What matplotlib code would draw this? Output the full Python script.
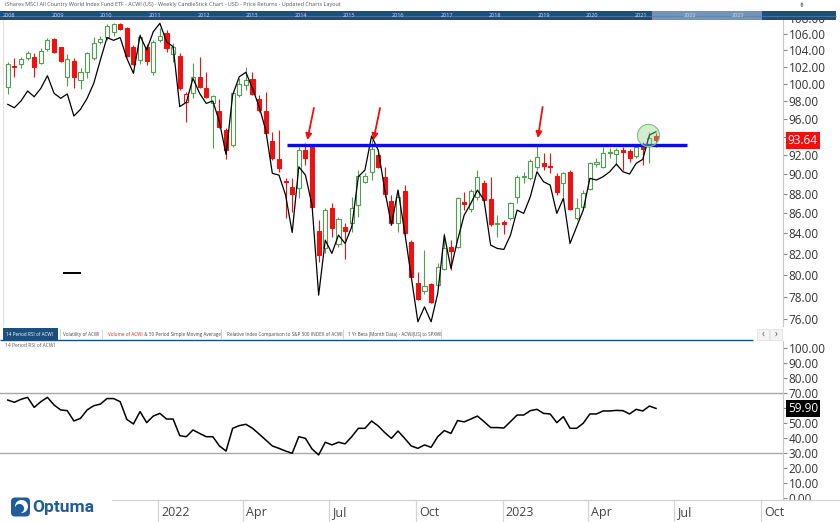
import numpy as np
import matplotlib
matplotlib.use("Agg")
import matplotlib.pyplot as plt
import matplotlib.dates as mdates
from matplotlib.patches import Rectangle, FancyBboxPatch, Circle
from matplotlib.transforms import blended_transform_factory, ScaledTranslation
from datetime import datetime, timedelta

plt.rcParams['font.family'] = ['Open Sans', 'DejaVu Sans']

# ---------------- data ----------------
first_week = datetime(2021, 7, 26)
n_weeks = 99
week_dates = [first_week + timedelta(weeks=i) for i in range(n_weeks)]

opens = [99.68, 102.12, 102.40, 103.04, 103.23, 102.52, 104.12, 105.34, 104.37, 100.78,
         102.71, 100.43, 101.37, 103.04, 104.98, 105.59, 106.20, 107.20, 106.78, 104.45,
         102.83, 104.45, 101.44, 105.26, 106.09, 103.52, 103.36, 97.88, 98.92, 100.85,
         99.49, 97.76, 96.93, 94.77, 93.12, 98.72, 99.88, 100.58, 98.26, 96.90,
         93.56, 91.62, 89.33, 88.70, 88.53, 92.58, 92.94, 84.26, 82.55, 86.49,
         82.97, 84.66, 84.99, 86.83, 89.22, 90.27, 92.04, 89.75, 87.24, 85.05,
         88.29, 83.19, 79.30, 78.57, 79.18, 79.09, 80.55, 82.65, 82.65, 87.10,
         86.39, 87.62, 89.12, 87.41, 84.92, 85.09, 85.49, 87.68, 89.68, 89.58,
         90.73, 91.16, 90.90, 89.82, 89.05, 90.24, 85.49, 86.66, 88.43, 91.08,
         90.73, 92.40, 92.11, 92.58, 92.51, 91.97, 92.87, 93.12, 94.11]
highs = [102.63, 103.04, 103.23, 103.92, 103.64, 104.24, 105.46, 105.46, 104.45, 103.52,
         103.04, 101.84, 103.84, 105.67, 105.79, 107.20, 107.37, 107.33, 106.91, 104.65,
         105.96, 104.73, 105.26, 106.71, 106.50, 104.86, 103.64, 99.10, 102.52, 103.23,
         101.37, 98.72, 98.26, 94.95, 99.10, 100.66, 102.04, 101.37, 98.72, 99.03,
         94.58, 94.77, 89.58, 89.58, 92.94, 93.30, 93.05, 85.32, 86.49, 87.00,
         85.65, 84.99, 87.68, 90.45, 90.10, 93.67, 92.22, 90.80, 87.85, 88.36,
         88.88, 83.35, 80.32, 82.39, 79.30, 81.12, 84.00, 83.35, 87.68, 88.18,
         88.43, 90.45, 89.40, 89.75, 85.82, 85.32, 87.17, 89.92, 90.27, 91.58,
         93.10, 92.22, 92.22, 90.10, 90.27, 90.45, 87.52, 88.36, 91.33, 91.69,
         92.94, 92.76, 92.76, 92.94, 92.65, 93.12, 93.49, 94.58, 94.40]
lows = [98.80, 100.85, 101.85, 102.83, 100.85, 102.40, 103.92, 103.64, 102.63, 99.76,
        99.49, 99.41, 100.66, 102.83, 104.73, 105.26, 105.75, 106.50, 103.23, 102.24,
        102.32, 102.24, 101.05, 105.05, 103.84, 102.60, 99.30, 95.62, 98.34, 99.49,
        98.34, 92.83, 94.95, 91.62, 92.94, 98.52, 99.30, 98.72, 96.82, 94.22,
        91.51, 90.27, 85.49, 86.15, 87.52, 90.98, 86.49, 81.27, 82.07, 83.68,
        82.71, 81.50, 84.17, 85.65, 89.05, 89.40, 90.63, 87.68, 84.82, 84.17,
        83.84, 79.70, 77.72, 78.32, 77.42, 78.93, 80.48, 80.48, 82.55, 86.32,
        86.15, 87.34, 87.17, 84.72, 83.68, 83.94, 85.32, 87.00, 89.05, 89.40,
        90.45, 90.45, 90.10, 87.85, 87.68, 86.32, 85.32, 86.32, 88.36, 90.80,
        90.63, 91.69, 90.98, 90.45, 91.33, 91.69, 90.98, 91.16, 92.94]
closes = [102.32, 101.97, 102.91, 103.71, 102.04, 103.95, 105.26, 103.76, 102.75, 102.91,
          100.78, 101.37, 103.64, 104.86, 105.34, 107.03, 107.20, 106.58, 103.36, 102.32,
          105.67, 102.75, 105.05, 105.75, 104.32, 104.45, 99.49, 98.84, 100.85, 99.68,
          98.52, 98.55, 95.13, 92.58, 98.92, 99.96, 100.46, 98.84, 97.01, 94.40,
          91.69, 90.63, 89.22, 87.92, 92.58, 91.75, 86.59, 81.91, 86.32, 84.49,
          85.39, 84.26, 86.49, 89.82, 89.85, 92.65, 90.80, 87.92, 84.99, 87.68,
          84.00, 79.86, 77.78, 79.00, 77.57, 80.74, 82.61, 82.32, 87.52, 86.93,
          88.29, 89.68, 87.34, 84.92, 84.99, 84.89, 87.00, 89.68, 89.82, 91.40,
          91.79, 90.87, 90.73, 88.18, 90.17, 86.39, 86.49, 88.02, 91.16, 91.33,
          92.22, 92.29, 92.58, 92.33, 91.75, 92.94, 92.65, 93.94, 93.64]
overlay_line = [97.65, 97.27, 98.03, 99.18, 98.52, 99.49, 100.97, 98.92, 98.34, 98.84,
                96.33, 97.09, 98.34, 100.07, 102.83, 105.56, 105.22, 105.56, 103.04, 101.25,
                105.79, 104.04, 106.28, 107.33, 105.05, 104.45, 97.39, 97.88, 100.66, 98.92,
                97.76, 98.03, 95.69, 92.11, 98.72, 100.85, 101.37, 99.49, 97.39, 94.77,
                90.10, 89.92, 87.85, 84.10, 90.80, 89.92, 86.83, 78.17, 83.35, 82.07,
                83.84, 83.03, 84.66, 89.75, 90.45, 94.11, 92.58, 88.36, 84.82, 88.36,
                84.17, 79.86, 75.78, 77.11, 75.78, 78.32, 83.84, 80.64, 83.35, 85.82,
                86.99, 88.36, 87.34, 82.87, 82.55, 82.45, 83.84, 86.32, 85.99, 87.68,
                90.27, 89.22, 88.88, 85.99, 87.52, 83.03, 84.66, 86.32, 89.58, 89.40,
                89.75, 90.27, 91.08, 90.27, 90.03, 91.16, 91.58, 94.22, 94.58]
rsi = [65.5, 64.0, 66.0, 67.3, 60.6, 64.4, 67.3, 62.2, 58.9, 58.4,
       51.5, 53.3, 58.9, 61.7, 62.8, 66.5, 66.5, 64.4, 52.6, 49.5,
       57.8, 50.4, 54.8, 56.6, 52.8, 52.8, 41.7, 41.0, 45.5, 43.2,
       41.0, 41.0, 34.8, 31.4, 46.6, 48.4, 49.3, 46.6, 42.8, 38.8,
       34.8, 33.2, 31.4, 29.9, 41.0, 39.9, 32.8, 28.8, 37.3, 35.5,
       37.3, 36.2, 41.0, 46.6, 46.6, 51.5, 48.2, 43.7, 39.9, 44.8,
       39.9, 34.8, 33.2, 35.5, 33.9, 41.0, 45.1, 43.2, 51.8, 50.9,
       52.8, 54.8, 51.1, 47.1, 47.1, 46.8, 51.1, 55.5, 55.5, 58.4,
       59.3, 56.6, 56.2, 50.4, 54.4, 46.6, 46.6, 50.0, 56.2, 56.2,
       58.2, 58.2, 58.6, 58.4, 56.2, 59.3, 58.2, 61.5, 59.9]

price_ticks = [76, 78, 80, 82, 84, 86, 88, 90, 92, 94, 96, 98, 100, 102, 104, 106, 108]
rsi_ticks = [0, 10, 20, 30, 40, 50, 60, 70, 80, 90, 100]
rsi_levels = [70, 30]
resistance = 93.1
resistance_span = (datetime(2022, 5, 18), datetime(2023, 7, 15))
arrow_tails = [(datetime(2022, 6, 15), 97.24), (datetime(2022, 8, 24), 97.24), (datetime(2023, 2, 12), 97.35)]
arrow_tips = [(datetime(2022, 6, 8), 93.67), (datetime(2022, 8, 17), 93.67), (datetime(2023, 2, 7), 93.89)]
highlight_point = (datetime(2023, 6, 4), 94.22)
dash_level = 80.24
dash_span = (datetime(2021, 9, 22), datetime(2021, 10, 11))
quarter_starts = [datetime(2022, 1, 1), datetime(2022, 4, 1), datetime(2022, 7, 1), datetime(2022, 10, 1),
                  datetime(2023, 1, 1), datetime(2023, 4, 1), datetime(2023, 7, 1), datetime(2023, 10, 1)]
quarter_labels = ['2022', 'Apr', 'Jul', 'Oct', '2023', 'Apr', 'Jul', 'Oct']
nav_years = list(range(2008, 2024))
tab_names = ['14 Period RSI of ACWI', 'Volatility of ACWI', 'Volume of ACWI',
             ' & 50 Period Simple Moving Average',
             'Relative Index Comparison to S&P 500 INDEX of ACWI',
             '1 Yr Beta (Month Data) - ACWI(US) to SPXWI']

# ---------------- layout helpers ----------------
W, H = 840, 522
fig = plt.figure(figsize=(W / 100, H / 100), dpi=100)
fig.patch.set_facecolor('white')


def rect(x0, y0, x1, y1):
    return [x0 / W, 1 - y1 / H, (x1 - x0) / W, (y1 - y0) / H]


REF_DATE = mdates.date2num(datetime(2022, 1, 1))
REF_PX = 158.0
PX_PER_DAY = 0.945


def px2date(px):
    return REF_DATE + (px - REF_PX) / PX_PER_DAY


def py2price(py):
    return 106.0 * np.exp(-(py - 34.0) / 857.5)


GREEN = '#4f9f4f'
RED = '#ee1111'
TXT = '#333333'
NAVY = '#1d4f7c'

d = mdates.date2num(week_dates)
O = np.array(opens); Hh = np.array(highs); L = np.array(lows); C = np.array(closes)

# ---------------- main price axes ----------------
ax = fig.add_axes(rect(0, 12, 783, 326))
ax.set_yscale('log')
ax.set_xlim(px2date(0), px2date(783))
ax.set_ylim(py2price(326), py2price(12))

prev = np.r_[O[0], C[:-1]]
up = C >= prev
hollow = C >= O
cols = [GREEN if u else RED for u in up]
faces = ['white' if h else c for h, c in zip(hollow, cols)]
ax.vlines(d, L, Hh, colors=cols, linewidth=0.8, zorder=2)
body_bottom = np.minimum(O, C)
body_height = np.maximum(np.abs(C - O), 0.09)
ax.bar(d, body_height, bottom=body_bottom, width=4.3, color=faces, edgecolor=cols,
       linewidth=0.8, zorder=3)
ax.plot(d, overlay_line, color='black', linewidth=0.9, zorder=4)

ax.hlines(resistance, mdates.date2num(resistance_span[0]), mdates.date2num(resistance_span[1]),
          color='#0a0aee', linewidth=2.4, zorder=5)
for (t0, p0), (t1, p1) in zip(arrow_tails, arrow_tips):
    ax.annotate('', xy=(mdates.date2num(t1), p1), xytext=(mdates.date2num(t0), p0),
                arrowprops=dict(arrowstyle='-|>', color=RED, lw=1.3, mutation_scale=9,
                                shrinkA=0, shrinkB=0), zorder=6)
ax.plot([mdates.date2num(highlight_point[0])], [highlight_point[1]], marker='o', ms=16,
        mfc=(0.55, 0.82, 0.55, 0.4), mec='#7cc47c', mew=0.8, zorder=6)
ax.hlines(dash_level, mdates.date2num(dash_span[0]), mdates.date2num(dash_span[1]),
          color='black', linewidth=1.4)

ax.yaxis.tick_right()
ax.set_yticks(price_ticks)
ax.set_yticklabels(['' if v == 94 else f'{v:.2f}' for v in price_ticks])
ax.yaxis.set_minor_locator(matplotlib.ticker.NullLocator())
ax.yaxis.set_minor_formatter(matplotlib.ticker.NullFormatter())
ax.tick_params(axis='y', direction='out', length=3, color='#888888', labelsize=8.5,
               labelcolor=TXT, pad=1)
ax.set_xticks([])
for s in ['top', 'bottom', 'left']:
    ax.spines[s].set_visible(False)
ax.spines['right'].set_color('#c8c8c8')
ax.spines['right'].set_linewidth(0.8)

tb = blended_transform_factory(ax.transAxes, ax.transData)
ax.text(1.006, closes[-1], f'{closes[-1]:.2f}', transform=tb, ha='left', va='center',
        fontsize=8.5, color='white',
        bbox=dict(boxstyle='square,pad=0.18', fc='#ee1111', ec='none'), zorder=8)

# ---------------- RSI axes ----------------
ax2 = fig.add_axes(rect(0, 341, 783, 500))
ax2.set_xlim(px2date(0), px2date(783))
ax2.set_ylim(-1.34, 105)
ax2.plot(d, rsi, color='black', linewidth=1.1, zorder=3)
for lv in rsi_levels:
    ax2.axhline(lv, color='#a8a8a8', linewidth=1.0, zorder=1)
ax2.yaxis.tick_right()
ax2.set_yticks(rsi_ticks)
ax2.set_yticklabels(['' if v == 60 else f'{v:.2f}' for v in rsi_ticks])
ax2.tick_params(axis='y', direction='out', length=3, color='#888888', labelsize=8.5,
                labelcolor=TXT, pad=1)
ax2.set_xticks([])
for s in ['top', 'bottom', 'left']:
    ax2.spines[s].set_visible(False)
ax2.spines['right'].set_color('#c8c8c8')
ax2.spines['right'].set_linewidth(0.8)
tb2 = blended_transform_factory(ax2.transAxes, ax2.transData)
ax2.text(1.006, rsi[-1], f'{rsi[-1]:.2f}', transform=tb2, ha='left', va='center',
         fontsize=8.5, color='white',
         bbox=dict(boxstyle='square,pad=0.18', fc='black', ec='none'), zorder=8)
ax2.text(0.006, 0.985, tab_names[0], transform=ax2.transAxes, ha='left', va='top',
         fontsize=3.6, color='#555555')

# ---------------- date band ----------------
ax3 = fig.add_axes(rect(0, 500, 840, 522))
ax3.set_zorder(5)
ax3.set_facecolor('white')
ax3.set_xlim(px2date(0), px2date(840))
ax3.set_ylim(0, 1)
qd = mdates.date2num(quarter_starts)
ax3.vlines(qd, 0, 1, color='#d4d4d4', linewidth=0.9)
ax3.set_xticks([])
ax3.set_yticks([])
for s in ['bottom', 'left', 'right']:
    ax3.spines[s].set_visible(False)
ax3.spines['top'].set_color('#d0d0d0')
ax3.spines['top'].set_linewidth(0.9)
off = ScaledTranslation(3 / 100, 0, fig.dpi_scale_trans)
tb3 = blended_transform_factory(ax3.transData, ax3.transAxes) + off
for q, lbl in zip(qd, quarter_labels):
    ax3.text(q, 0.45, lbl, transform=tb3, ha='left', va='center', fontsize=9, color='#444444')

# ---------------- pixel overlay for chrome ----------------
ov = fig.add_axes([0, 0, 1, 1])
ov.set_zorder(10)
ov.patch.set_alpha(0)
ov.set_xlim(0, W)
ov.set_ylim(H, 0)
ov.axis('off')

ov.text(5, 4.5, 'iShares MSCI All Country World Index Fund ETF - ACWI (US) - Weekly CandleStick Chart - USD - Price Returns - Updated Charts Layout',
        fontsize=4.0, color='#555555', ha='left', va='center')
ov.text(802, 5, '\u21df', fontsize=5, color='#555555', ha='center', va='center',
        family=['DejaVu Sans'])
# navigator strip
ov.add_patch(Rectangle((0, 11), 836, 9, facecolor=NAVY, edgecolor='none'))
ov.add_patch(Rectangle((652, 11), 110, 9, facecolor='#7493b8', edgecolor='none'))
ov.plot([0, 836], [15.5, 15.5], color='#5b7fa6', linewidth=0.5)
for k, yr in enumerate(nav_years):
    ov.text(3 + 48.6 * k, 15.5, str(yr), fontsize=4.0, color='#d6e0ec', ha='left', va='center')

ov.vlines(3, 20, 326, color='#e0e0e0', linewidth=0.8)

# tabs
TAB_FS = 3.3
ov.add_patch(Rectangle((3, 328), 55, 12, facecolor=NAVY, edgecolor='none'))
ov.hlines(340, 0, 753, color=NAVY, linewidth=1.0)
ov.text(6, 334.5, tab_names[0], fontsize=TAB_FS, color='white', ha='left', va='center')
ov.text(63, 334.5, tab_names[1], fontsize=TAB_FS, color='#444444', ha='left', va='center')
t_red = ov.text(108, 334.5, tab_names[2], fontsize=TAB_FS, color='#e02020', ha='left', va='center')
ov.annotate(tab_names[3], xy=(1, 0.5), xycoords=t_red, fontsize=TAB_FS,
            color='#444444', ha='left', va='center')
ov.text(227, 334.5, tab_names[4], fontsize=TAB_FS, color='#444444', ha='left', va='center')
ov.text(348, 334.5, tab_names[5], fontsize=TAB_FS, color='#444444', ha='left', va='center')
for sx in [60, 102, 221, 343, 441]:
    ov.vlines(sx, 329, 339, color='#cccccc', linewidth=0.6)
ov.add_patch(Rectangle((757, 329), 12, 11, facecolor='#f4f4f4', edgecolor='#dddddd', lw=0.5))
ov.add_patch(Rectangle((770, 329), 12, 11, facecolor='#f4f4f4', edgecolor='#dddddd', lw=0.5))
ov.text(763, 334.5, '\u2039', fontsize=7, color='#555555', ha='center', va='center')
ov.text(776, 334.5, '\u203a', fontsize=7, color='#555555', ha='center', va='center')

# logo
ov.add_patch(Rectangle((0, 497), 112, 25, facecolor='white', edgecolor='none'))
ov.add_patch(FancyBboxPatch((11, 497.5), 19, 19, boxstyle='round,pad=0,rounding_size=4',
                            facecolor='#1f5c99', edgecolor='none'))
ov.add_patch(Circle((21.5, 506.5), 6.5, facecolor='white', edgecolor='none'))
ov.add_patch(Circle((19.5, 508.5), 4.6, facecolor='#1f5c99', edgecolor='none'))
ov.text(32, 507.5, 'Optuma', fontsize=12.5, fontweight='bold', color='#1f5c99',
        ha='left', va='center', family=['Roboto', 'DejaVu Sans'])

fig.savefig('out.png', dpi=100, facecolor='white')
